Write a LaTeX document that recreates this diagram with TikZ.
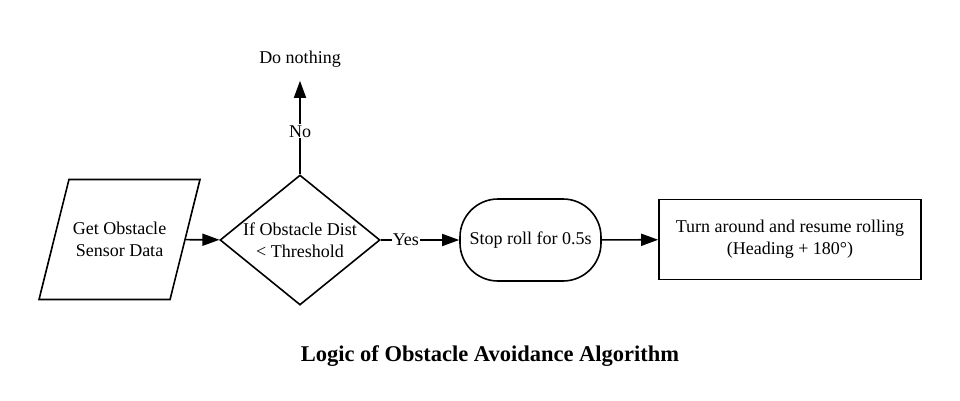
\documentclass[tikz,border=0pt]{standalone}
\usepackage{fontspec}
\setmainfont{Liberation Serif}
\usetikzlibrary{arrows.meta, shapes.geometric, positioning}

\begin{document}
\begin{tikzpicture}[
            x = 1pt, y = -1pt, % pixel-like units
            > = {Triangle[length=17pt, width=12pt]}, % arrow head style
            line width = 1.6pt, % line style
            font = \fontsize{18}{22}\selectfont
        ]

        \tikzstyle{io}=[
            draw = black,
            trapezium,
            trapezium left angle = 75,
            trapezium right angle = 105,
            trapezium stretches = true,
            inner ysep = 38pt,
            minimum width = 161pt,
            minimum height = 120pt,
            align = center
        ]
        \tikzstyle{decision}=[
            draw = black,
            diamond,
            aspect = 1.23,
            inner sep = -4.5pt,
            minimum width = 160pt,
            minimum height = 130pt,
            align = center
        ]
        \tikzstyle{terminal}=[
            draw = black,
            rectangle,
            rounded corners = 38pt,
            minimum width = 141pt,
            minimum height = 82pt,
            align = center
        ]
        \tikzstyle{process}=[
            draw = black,
            rectangle,
            minimum width = 262pt,
            minimum height = 80pt,
            align = center
        ]
        \tikzstyle{label}=[
            fill = white,
            inner sep = 1pt
        ]

        \useasboundingbox (0,0) rectangle (960,400);

	\node[io] (sensor) at (119.5,239.5) {Get Obstacle\\Sensor Data};
	\node[decision] (check) at (300,240) {If Obstacle Dist\\< Threshold};
	\node[terminal] (stop) at (530.5,240) {Stop roll for 0.5s};
	\node[process] (turn) at (790,239.5) {Turn around and resume rolling\\(Heading + 180°)};
	\node[inner sep = 0pt, minimum height = 42pt] (nothing) at (300,59) {Do nothing};
	\node[font = \fontsize{22.5}{27}\selectfont\bfseries] (title) at (490,356) {Logic of Obstacle Avoidance Algorithm};

	\draw[->] (sensor) -- (check);
	\draw[->] (check) -- node[label, pos = 0.32] {Yes} (stop);
	\draw[->] (check) -- node[label, pos = 0.46] {No} (nothing);
	\draw[->] (stop) -- (turn);

    \end{tikzpicture}
\end{document}
